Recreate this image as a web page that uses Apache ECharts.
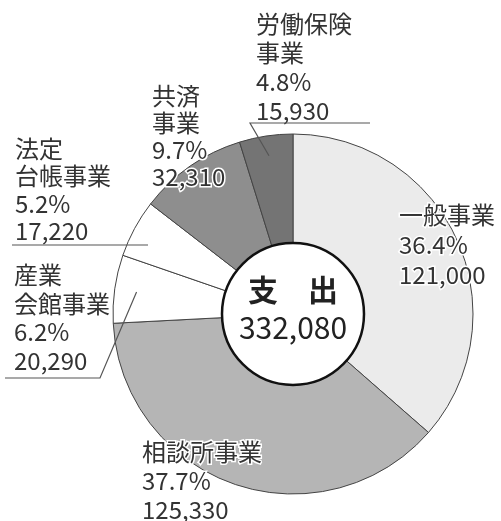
<!DOCTYPE html>
<html>
<head>
<meta charset="utf-8">
<script src="https://cdn.jsdelivr.net/npm/echarts@6/dist/echarts.min.js"></script>
<style>
html,body{margin:0;padding:0;background:#fff;}
#chart{width:501px;height:521px;}
</style>
</head>
<body>
<div id="chart"></div>
<script>
// ---- data (clockwise from top) ----
const categories = ['一般事業', '相談所事業', '産業\n会館事業', '法定\n台帳事業', '共済\n事業', '労働保険\n事業'];
const values = [121000, 125330, 20290, 17220, 32310, 15930];
const percentLabels = ['36.4%', '37.7%', '6.2%', '5.2%', '9.7%', '4.8%'];
const centerTitle = '支　出';

// ---- styles / layout ----
const colors = ['#ebebeb', '#b5b5b5', '#ffffff', '#ffffff', '#8e8e8e', '#747474'];
const CX = 293, CY = 314, R0 = 71, R1 = 180;
const FONT = 24;
const lineHeights = [30, 29, 28.5, 27.5, 27, 29];
// label block top-left positions
const labelPos = [[399, 200], [142, 437], [14, 261], [15, 135], [152, 82], [256, 9]];
// leader: underline x-range (relative to label x), vertical offset from block bottom,
// which end the diagonal starts from, and radius of its inner end in the slice
const leaders = [
  null,
  null,
  {u0: -9, u1: 86, dy: 3, from: 'right', into: 158},
  {u0: -3, u1: 133, dy: 0, from: null, into: 0},
  null,
  {u0: -6, u1: 114, dy: -2, from: 'left', into: 160}
];

const total = values.reduce((a, b) => a + b, 0);
const fmt = v => v.toLocaleString('en-US');

function midAngle(i) {
  let before = 0;
  for (let k = 0; k < i; k++) before += values[k];
  return (before + values[i] / 2) / total * 2 * Math.PI;
}
function linesOf(i) {
  return categories[i].split('\n').length + 2;
}
function leaderPoints(i) {
  const L = leaders[i];
  const [x, y] = labelPos[i];
  const uy = y + linesOf(i) * lineHeights[i] + L.dy;
  const left = [x + L.u0, uy], right = [x + L.u1, uy];
  if (!L.into) return [left, right];
  const a = midAngle(i);
  const inner = [CX + L.into * Math.sin(a), CY - L.into * Math.cos(a)];
  return L.from === 'left' ? [right, left, inner] : [left, right, inner];
}

const chart = echarts.init(document.getElementById('chart'), null, {renderer: 'canvas'});

const data = categories.map((name, i) => ({
  name: name,
  value: values[i],
  itemStyle: {color: colors[i]},
  label: {lineHeight: lineHeights[i]}
}));

const leaderGraphics = [];
leaders.forEach((L, i) => {
  if (!L) return;
  leaderGraphics.push({
    type: 'polyline',
    z: 10,
    silent: true,
    shape: {points: leaderPoints(i)},
    style: {stroke: '#555', lineWidth: 1.2, fill: null}
  });
});

chart.setOption({
  animation: false,
  backgroundColor: '#ffffff',
  graphic: leaderGraphics,
  series: [
    {
      type: 'pie',
      radius: [R0, R1],
      center: [CX, CY],
      startAngle: 90,
      clockwise: true,
      avoidLabelOverlap: false,
      silent: true,
      itemStyle: {borderColor: '#444', borderWidth: 1},
      label: {
        show: true,
        position: 'outside',
        fontFamily: 'Noto Sans CJK JP',
        fontSize: FONT,
        color: '#333',
        textBorderColor: '#fff',
        textBorderWidth: 3,
        formatter: p => p.name + '\n' + percentLabels[p.dataIndex] + '\n' + fmt(p.value)
      },
      labelLine: {show: false},
      labelLayout: function (params) {
        const [x, y] = labelPos[params.dataIndex];
        return {x: x, y: y, align: 'left', verticalAlign: 'top'};
      },
      data: data
    },
    {
      type: 'pie',
      radius: [0, R0],
      center: [CX, CY],
      silent: true,
      z: 3,
      itemStyle: {color: '#ffffff', borderColor: '#111', borderWidth: 2.5},
      label: {
        show: true,
        position: 'center',
        offset: [0, -5],
        formatter: () => '{a|' + centerTitle + '}\n{b|' + fmt(total) + '}',
        rich: {
          a: {fontFamily: 'Noto Sans CJK JP', fontSize: 30, fontWeight: 'bold', color: '#222', lineHeight: 38},
          b: {fontFamily: 'Noto Sans CJK JP', fontSize: 30, color: '#222', lineHeight: 38}
        }
      },
      labelLine: {show: false},
      data: [{name: 'total', value: total}]
    }
  ]
});
</script>
</body>
</html>
